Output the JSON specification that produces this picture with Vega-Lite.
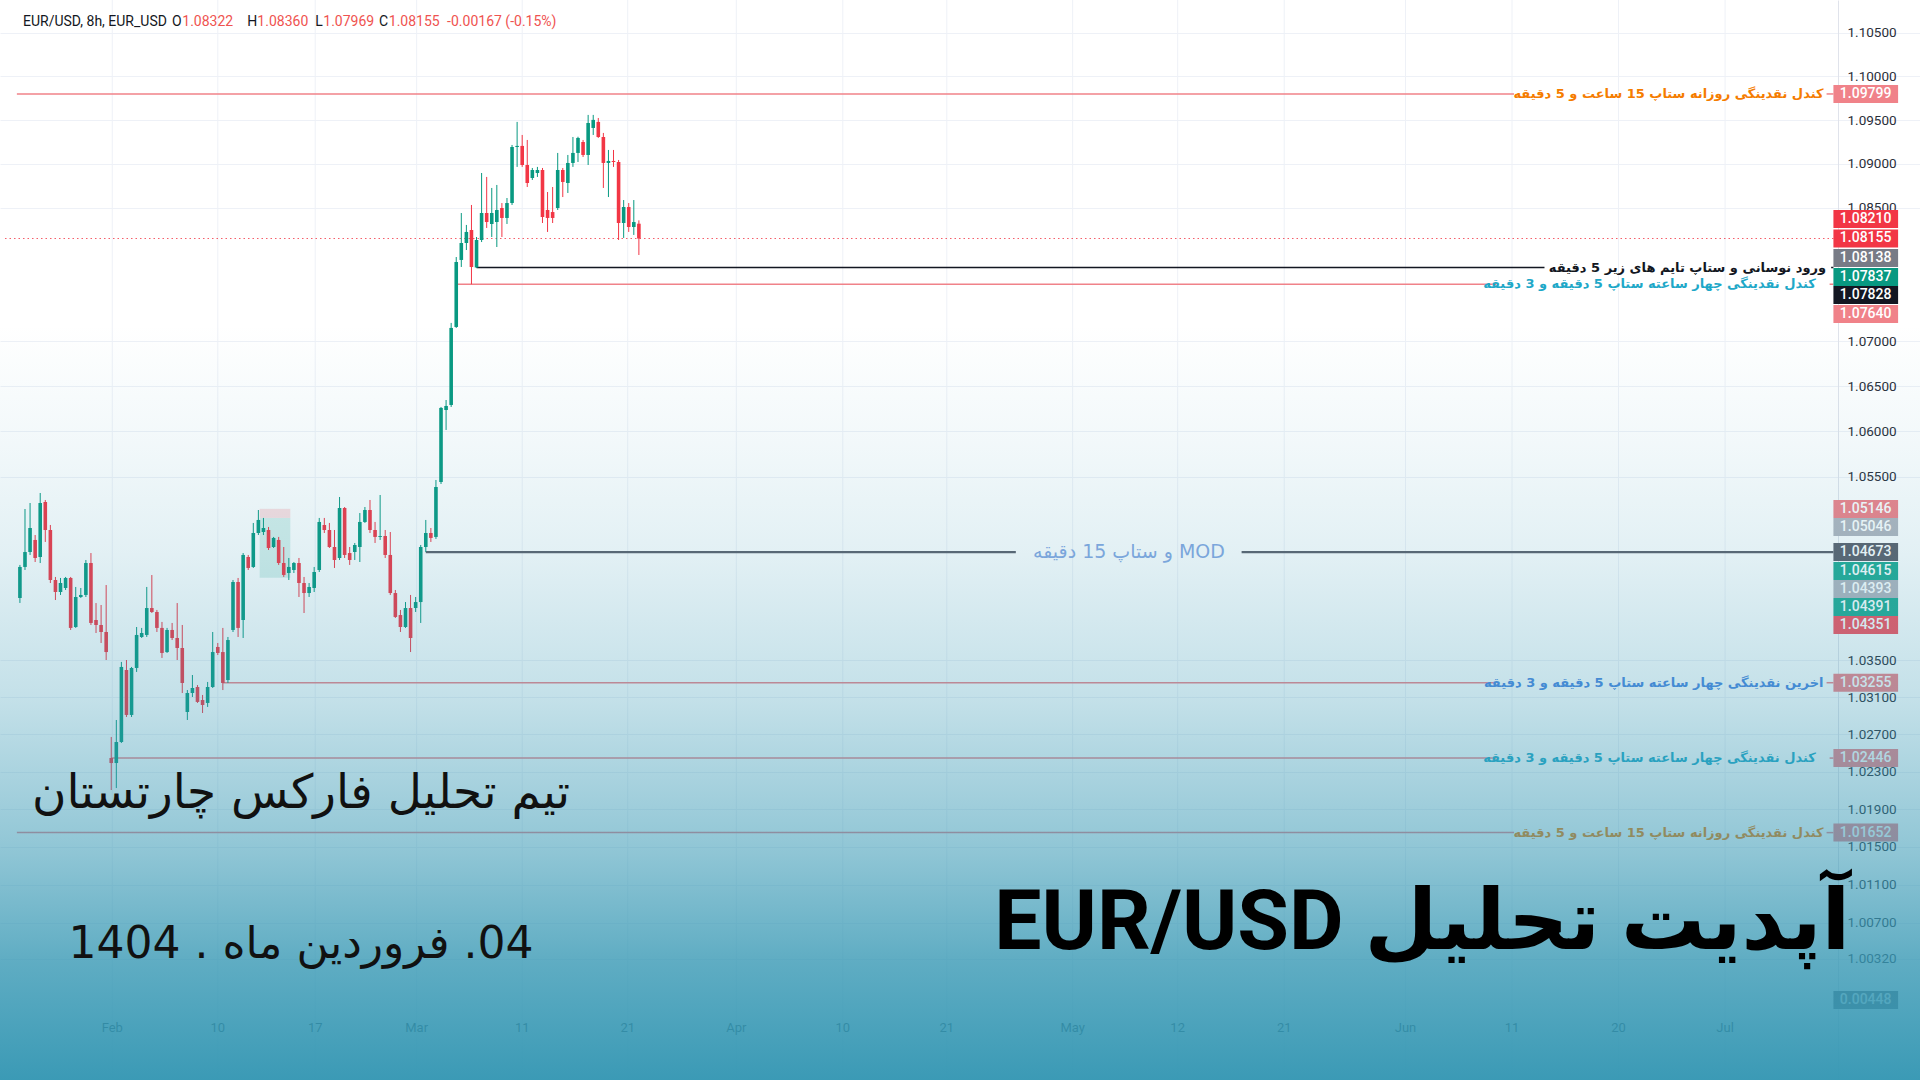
{
  "$schema": "https://vega.github.io/schema/vega-lite/v6.json",
  "width": 1920,
  "height": 1080,
  "autosize": "none",
  "padding": 0,
  "background": "#ffffff",
  "config": {"view": {"stroke": null}, "text": {"font": "Roboto"}},
  "resolve": {"axis": {"y": "independent", "x": "independent"}},
  "data": {"values": [{}]},
  "datasets": {
    "candles": [
      {"i":1,"o":1.04172,"h":1.04532,"l":1.04118,"c":1.04510},
      {"i":2,"o":1.04510,"h":1.05144,"l":1.04477,"c":1.04673},
      {"i":3,"o":1.04673,"h":1.05210,"l":1.04641,"c":1.04936},
      {"i":4,"o":1.04805,"h":1.04859,"l":1.04564,"c":1.04608},
      {"i":5,"o":1.04619,"h":1.05320,"l":1.04553,"c":1.05210},
      {"i":6,"o":1.05221,"h":1.05243,"l":1.04783,"c":1.04914},
      {"i":7,"o":1.04914,"h":1.04969,"l":1.04335,"c":1.04368},
      {"i":8,"o":1.04368,"h":1.04401,"l":1.04150,"c":1.04237},
      {"i":9,"o":1.04237,"h":1.04390,"l":1.04205,"c":1.04335},
      {"i":10,"o":1.04281,"h":1.04401,"l":1.04259,"c":1.04390},
      {"i":11,"o":1.04390,"h":1.04401,"l":1.03825,"c":1.03847},
      {"i":12,"o":1.03857,"h":1.04292,"l":1.03847,"c":1.04183},
      {"i":13,"o":1.04183,"h":1.04281,"l":1.04172,"c":1.04205},
      {"i":14,"o":1.04205,"h":1.04586,"l":1.04183,"c":1.04553},
      {"i":15,"o":1.04553,"h":1.04662,"l":1.03879,"c":1.03901},
      {"i":16,"o":1.03933,"h":1.04117,"l":1.03792,"c":1.03879},
      {"i":17,"o":1.03879,"h":1.04096,"l":1.03684,"c":1.03803},
      {"i":18,"o":1.03803,"h":1.04313,"l":1.03500,"c":1.03586},
      {"i":19,"o":1.02447,"h":1.02672,"l":1.02105,"c":1.02393},
      {"i":20,"o":1.02393,"h":1.02854,"l":1.02126,"c":1.02618},
      {"i":21,"o":1.02618,"h":1.03479,"l":1.02607,"c":1.03425},
      {"i":22,"o":1.03392,"h":1.03500,"l":1.02886,"c":1.02908},
      {"i":23,"o":1.02908,"h":1.03425,"l":1.02886,"c":1.03414},
      {"i":24,"o":1.03414,"h":1.03857,"l":1.03371,"c":1.03771},
      {"i":25,"o":1.03749,"h":1.03847,"l":1.03738,"c":1.03792},
      {"i":26,"o":1.03771,"h":1.04292,"l":1.03749,"c":1.04063},
      {"i":27,"o":1.04063,"h":1.04422,"l":1.04009,"c":1.04020},
      {"i":28,"o":1.04020,"h":1.04042,"l":1.03803,"c":1.03847},
      {"i":29,"o":1.03847,"h":1.03912,"l":1.03522,"c":1.03576},
      {"i":30,"o":1.03586,"h":1.03847,"l":1.03576,"c":1.03825},
      {"i":31,"o":1.03825,"h":1.03901,"l":1.03716,"c":1.03738},
      {"i":32,"o":1.03738,"h":1.04117,"l":1.03500,"c":1.03630},
      {"i":33,"o":1.03630,"h":1.03879,"l":1.03144,"c":1.03252},
      {"i":34,"o":1.02940,"h":1.03176,"l":1.02854,"c":1.03144},
      {"i":35,"o":1.03144,"h":1.03338,"l":1.03101,"c":1.03198},
      {"i":36,"o":1.03209,"h":1.03230,"l":1.03037,"c":1.03048},
      {"i":37,"o":1.03069,"h":1.03123,"l":1.02929,"c":1.03015},
      {"i":38,"o":1.03037,"h":1.03263,"l":1.02994,"c":1.03209},
      {"i":39,"o":1.03209,"h":1.03803,"l":1.03198,"c":1.03586},
      {"i":40,"o":1.03641,"h":1.03684,"l":1.03554,"c":1.03576},
      {"i":41,"o":1.03586,"h":1.03847,"l":1.03176,"c":1.03252},
      {"i":42,"o":1.03284,"h":1.03749,"l":1.03252,"c":1.03716},
      {"i":43,"o":1.03825,"h":1.04368,"l":1.03803,"c":1.04346},
      {"i":44,"o":1.04346,"h":1.04390,"l":1.03749,"c":1.03847},
      {"i":45,"o":1.03933,"h":1.04662,"l":1.03738,"c":1.04641},
      {"i":46,"o":1.04619,"h":1.04641,"l":1.04477,"c":1.04499},
      {"i":47,"o":1.04510,"h":1.04991,"l":1.04499,"c":1.04881},
      {"i":48,"o":1.04881,"h":1.05133,"l":1.04859,"c":1.05024},
      {"i":49,"o":1.04892,"h":1.05046,"l":1.04859,"c":1.04936},
      {"i":50,"o":1.04914,"h":1.04947,"l":1.04695,"c":1.04717},
      {"i":51,"o":1.04728,"h":1.04838,"l":1.04717,"c":1.04827},
      {"i":52,"o":1.04805,"h":1.04838,"l":1.04532,"c":1.04553},
      {"i":53,"o":1.04553,"h":1.04728,"l":1.04401,"c":1.04423},
      {"i":54,"o":1.04444,"h":1.04608,"l":1.04368,"c":1.04510},
      {"i":55,"o":1.04477,"h":1.04564,"l":1.04444,"c":1.04553},
      {"i":56,"o":1.04553,"h":1.04608,"l":1.04183,"c":1.04335},
      {"i":57,"o":1.04335,"h":1.04401,"l":1.04009,"c":1.04226},
      {"i":58,"o":1.04226,"h":1.04335,"l":1.04183,"c":1.04292},
      {"i":59,"o":1.04281,"h":1.04510,"l":1.04237,"c":1.04455},
      {"i":60,"o":1.04477,"h":1.05046,"l":1.04455,"c":1.05002},
      {"i":61,"o":1.04969,"h":1.05046,"l":1.04881,"c":1.04914},
      {"i":62,"o":1.04914,"h":1.04991,"l":1.04717,"c":1.04728},
      {"i":63,"o":1.04728,"h":1.04914,"l":1.04499,"c":1.04586},
      {"i":64,"o":1.04608,"h":1.05276,"l":1.04586,"c":1.05155},
      {"i":65,"o":1.05155,"h":1.05166,"l":1.04608,"c":1.04641},
      {"i":66,"o":1.04662,"h":1.04728,"l":1.04532,"c":1.04586},
      {"i":67,"o":1.04673,"h":1.04772,"l":1.04586,"c":1.04750},
      {"i":68,"o":1.04728,"h":1.05100,"l":1.04564,"c":1.05002},
      {"i":69,"o":1.05002,"h":1.05166,"l":1.04991,"c":1.05133},
      {"i":70,"o":1.05133,"h":1.05243,"l":1.04881,"c":1.04914},
      {"i":71,"o":1.04914,"h":1.05002,"l":1.04772,"c":1.04838},
      {"i":72,"o":1.04838,"h":1.05298,"l":1.04805,"c":1.04848},
      {"i":73,"o":1.04848,"h":1.04914,"l":1.04608,"c":1.04641},
      {"i":74,"o":1.04641,"h":1.04892,"l":1.04205,"c":1.04226},
      {"i":75,"o":1.04226,"h":1.04259,"l":1.03955,"c":1.03966},
      {"i":76,"o":1.03987,"h":1.04042,"l":1.03803,"c":1.03857},
      {"i":77,"o":1.03857,"h":1.04128,"l":1.03847,"c":1.04063},
      {"i":78,"o":1.04063,"h":1.04205,"l":1.03586,"c":1.03738},
      {"i":79,"o":1.04063,"h":1.04183,"l":1.04020,"c":1.04128},
      {"i":80,"o":1.04128,"h":1.04750,"l":1.03901,"c":1.04728},
      {"i":81,"o":1.04728,"h":1.05024,"l":1.04673,"c":1.04881},
      {"i":82,"o":1.04881,"h":1.04936,"l":1.04783,"c":1.04827},
      {"i":83,"o":1.04838,"h":1.05463,"l":1.04816,"c":1.05386},
      {"i":84,"o":1.05441,"h":1.06270,"l":1.05419,"c":1.06259},
      {"i":85,"o":1.06236,"h":1.06347,"l":1.06015,"c":1.06281},
      {"i":86,"o":1.06292,"h":1.07206,"l":1.06270,"c":1.07150},
      {"i":87,"o":1.07161,"h":1.07946,"l":1.07150,"c":1.07890},
      {"i":88,"o":1.07913,"h":1.08443,"l":1.07834,"c":1.08104},
      {"i":89,"o":1.08104,"h":1.08308,"l":1.08025,"c":1.08229},
      {"i":90,"o":1.08251,"h":1.08534,"l":1.07640,"c":1.07834},
      {"i":91,"o":1.07828,"h":1.08172,"l":1.07823,"c":1.08138},
      {"i":92,"o":1.08138,"h":1.08897,"l":1.08115,"c":1.08443},
      {"i":93,"o":1.08443,"h":1.08852,"l":1.08274,"c":1.08341},
      {"i":94,"o":1.08319,"h":1.08727,"l":1.08172,"c":1.08443},
      {"i":95,"o":1.08341,"h":1.08761,"l":1.08059,"c":1.08477},
      {"i":96,"o":1.08500,"h":1.08556,"l":1.08172,"c":1.08387},
      {"i":97,"o":1.08387,"h":1.08613,"l":1.08319,"c":1.08556},
      {"i":98,"o":1.08556,"h":1.09216,"l":1.08534,"c":1.09193},
      {"i":99,"o":1.09193,"h":1.09479,"l":1.08966,"c":1.09205},
      {"i":100,"o":1.09205,"h":1.09330,"l":1.08966,"c":1.08988},
      {"i":101,"o":1.08988,"h":1.09273,"l":1.08738,"c":1.08783},
      {"i":102,"o":1.08840,"h":1.08954,"l":1.08818,"c":1.08931},
      {"i":103,"o":1.08897,"h":1.08966,"l":1.08852,"c":1.08931},
      {"i":104,"o":1.08931,"h":1.08954,"l":1.08330,"c":1.08398},
      {"i":105,"o":1.08477,"h":1.08681,"l":1.08229,"c":1.08387},
      {"i":106,"o":1.08454,"h":1.08738,"l":1.08330,"c":1.08387},
      {"i":107,"o":1.08500,"h":1.09125,"l":1.08477,"c":1.08931},
      {"i":108,"o":1.08931,"h":1.08954,"l":1.08624,"c":1.08795},
      {"i":109,"o":1.08783,"h":1.09102,"l":1.08670,"c":1.09011},
      {"i":110,"o":1.09011,"h":1.09307,"l":1.08966,"c":1.09125},
      {"i":111,"o":1.09125,"h":1.09310,"l":1.09022,"c":1.09296},
      {"i":112,"o":1.09250,"h":1.09273,"l":1.09079,"c":1.09102},
      {"i":113,"o":1.09102,"h":1.09559,"l":1.08988,"c":1.09467},
      {"i":114,"o":1.09410,"h":1.09559,"l":1.09330,"c":1.09502},
      {"i":115,"o":1.09479,"h":1.09524,"l":1.09296,"c":1.09307},
      {"i":116,"o":1.09307,"h":1.09353,"l":1.08727,"c":1.09011},
      {"i":117,"o":1.09011,"h":1.09159,"l":1.08624,"c":1.09034},
      {"i":118,"o":1.09034,"h":1.09159,"l":1.08966,"c":1.09022},
      {"i":119,"o":1.09022,"h":1.09045,"l":1.08138,"c":1.08330},
      {"i":120,"o":1.08330,"h":1.08590,"l":1.08161,"c":1.08511},
      {"i":121,"o":1.08511,"h":1.08556,"l":1.08229,"c":1.08285},
      {"i":122,"o":1.08285,"h":1.08590,"l":1.08195,"c":1.08341},
      {"i":123,"o":1.08322,"h":1.08360,"l":1.07969,"c":1.08155}
    ],
    "dates": [
      {"i":19.2,"t":"Feb"},{"i":40,"t":"10"},{"i":59.2,"t":"17"},{"i":79.2,"t":"Mar"},
      {"i":100,"t":"11"},{"i":120.8,"t":"21"},{"i":142.2,"t":"Apr"},{"i":163.2,"t":"10"},
      {"i":183.7,"t":"21"},{"i":208.5,"t":"May"},{"i":229.2,"t":"12"},{"i":250.2,"t":"21"},
      {"i":274.1,"t":"Jun"},{"i":295.1,"t":"11"},{"i":316.1,"t":"20"},{"i":337.1,"t":"Jul"}
    ],
    "box": [
      {"x0":48.25,"x1":54.3,"y0":1.05146,"y1":1.05046,"k":"stop"},
      {"x0":48.25,"x1":54.3,"y0":1.05046,"y1":1.04393,"k":"target"}
    ],
    "levels": [
      {"p":1.09799,"a":0.4,"b":295.5,"k":"lvl"},
      {"p":1.09799,"a":357.1,"b":358.45,"k":"lvl"},
      {"p":1.07828,"a":91,"b":301.5,"k":"black"},
      {"p":1.07828,"a":358.0,"b":358.45,"k":"black"},
      {"p":1.0764,"a":87.3,"b":292.0,"k":"lvl"},
      {"p":1.0764,"a":357.7,"b":358.45,"k":"lvl"},
      {"p":1.04673,"a":81,"b":197.3,"k":"mod"},
      {"p":1.04673,"a":241.8,"b":358.45,"k":"mod"},
      {"p":1.03255,"a":41,"b":292.0,"k":"lvl"},
      {"p":1.03255,"a":357.1,"b":358.45,"k":"lvl"},
      {"p":1.02446,"a":19,"b":292.0,"k":"lvl"},
      {"p":1.02446,"a":357.7,"b":358.45,"k":"lvl"},
      {"p":1.01652,"a":0.4,"b":295.5,"k":"lvl"},
      {"p":1.01652,"a":357.1,"b":358.45,"k":"lvl"}
    ],
    "notes": [
      {"p":1.09799,"at":356.5,"t":"کندل نقدینگی روزانه ستاپ 15 ساعت و 5 دقیقه","k":"orange"},
      {"p":1.07828,"at":357.0,"t":"ورود نوسانی  و ستاپ تایم های زیر 5 دقیقه","k":"black"},
      {"p":1.0764,"at":355.0,"t":"کندل نقدینگی چهار ساعته ستاپ 5 دقیقه و 3 دقیقه","k":"cyan"},
      {"p":1.03255,"at":356.5,"t":"اخرین نقدینگی چهار ساعته ستاپ 5 دقیقه و 3 دقیقه","k":"blue"},
      {"p":1.02446,"at":355.0,"t":"کندل نقدینگی چهار ساعته ستاپ 5 دقیقه و 3 دقیقه","k":"cyan"},
      {"p":1.01652,"at":356.5,"t":"کندل نقدینگی روزانه ستاپ 15 ساعت و 5 دقیقه","k":"orange"}
    ],
    "tags": [
      {"v":1.09799,"at":1.09799,"k":"lvl"},
      {"v":1.08210,"at":1.08375,"k":"red"},
      {"v":1.08155,"at":1.08155,"k":"red"},
      {"v":1.08138,"at":1.07936,"k":"gray"},
      {"v":1.07837,"at":1.07722,"k":"teal"},
      {"v":1.07828,"at":1.07519,"k":"black"},
      {"v":1.07640,"at":1.07306,"k":"lvl"},
      {"v":1.05146,"at":1.05144,"k":"lvl"},
      {"v":1.05046,"at":1.04947,"k":"lgray"},
      {"v":1.04673,"at":1.04673,"k":"mod"},
      {"v":1.04615,"at":1.04466,"k":"teal2"},
      {"v":1.04393,"at":1.04270,"k":"lgray"},
      {"v":1.04391,"at":1.04074,"k":"teal2"},
      {"v":1.04351,"at":1.03879,"k":"red2"},
      {"v":1.03255,"at":1.03255,"k":"lvl"},
      {"v":1.02446,"at":1.02446,"k":"lvl"},
      {"v":1.01652,"at":1.01652,"k":"lvl"},
      {"v":0.00448,"at":0.99892,"k":"mod"}
    ]
  },
  "layer": [
    {
      "data": {"name": "dates"},
      "mark": {"type": "rule", "color": "#eef1f7", "strokeWidth": 1},
      "encoding": {
        "x": {"field": "i", "type": "quantitative", "scale": {"domain": [-1.941, 374.53], "nice": false, "zero": false}, "axis": null}
      }
    },
    {
      "data": {"name": "box"},
      "mark": {"type": "rect"},
      "encoding": {
        "x": {"field": "x0", "type": "quantitative", "scale": {"domain": [-1.941, 374.53], "nice": false, "zero": false}, "axis": null},
        "x2": {"field": "x1"},
        "y": {"field": "y0", "type": "quantitative", "scale": {"type": "log", "domain": [0.99061, 1.10881], "nice": false},
          "axis": {"orient": "right", "offset": -82, "title": null,
            "values": [1.105, 1.1, 1.095, 1.09, 1.085, 1.07, 1.065, 1.06, 1.055, 1.035, 1.031, 1.027, 1.023, 1.019, 1.015, 1.011, 1.007, 1.0032],
            "format": ".5f", "labelAlign": "left", "labelBaseline": "middle", "labelPadding": 9, "ticks": false,
            "domainColor": "#e0e3eb", "domainWidth": 1, "grid": true, "gridColor": "#eef1f7", "gridWidth": 1,
            "labelFont": "Roboto", "labelFontSize": 13.5, "labelColor": "#2a2e39", "labelOverlap": false, "labelFlush": false, "labelBound": false}},
        "y2": {"field": "y1"},
        "color": {"field": "k", "type": "nominal", "legend": null,
          "scale": {"domain": ["lvl","red","gray","teal","black","mod","lgray","teal2","red2","orange","cyan","blue","stop","target"],
            "range": ["#f08289","#f23645","#787b86","#089981","#131722","#5d606b","#b2b5be","#22ab94","#f7525f","#f57c00","#1fa8c8","#4a86e0","rgba(242,54,69,0.16)","rgba(8,153,129,0.16)"]}}
      }
    },
    {
      "data": {"name": "levels"},
      "mark": {"type": "rule"},
      "encoding": {
        "x": {"field": "a", "type": "quantitative", "scale": {"domain": [-1.941, 374.53], "nice": false, "zero": false}, "axis": null},
        "x2": {"field": "b"},
        "y": {"field": "p", "type": "quantitative", "scale": {"type": "log", "domain": [0.99061, 1.10881], "nice": false}, "axis": null},
        "color": {"field": "k", "type": "nominal", "legend": null},
        "strokeWidth": {"condition": {"test": "datum.k === 'mod'", "value": 2.2}, "value": 1.5}
      }
    },
    {
      "mark": {"type": "rule", "color": "#f23645", "strokeDash": [1.5, 3], "strokeWidth": 1.2, "opacity": 0.8},
      "encoding": {
        "x": {"datum": -1.941, "type": "quantitative", "scale": {"domain": [-1.941, 374.53], "nice": false, "zero": false}, "axis": null},
        "x2": {"datum": 358.45},
        "y": {"datum": 1.08155, "type": "quantitative", "scale": {"type": "log", "domain": [0.99061, 1.10881], "nice": false}, "axis": null}
      }
    },
    {
      "data": {"name": "candles"},
      "mark": {"type": "rule", "strokeWidth": 1},
      "encoding": {
        "x": {"field": "i", "type": "quantitative", "scale": {"domain": [-1.941, 374.53], "nice": false, "zero": false}, "axis": null},
        "y": {"field": "l", "type": "quantitative", "scale": {"type": "log", "domain": [0.99061, 1.10881], "nice": false}, "axis": null},
        "y2": {"field": "h"},
        "color": {"condition": {"test": "datum.c >= datum.o", "value": "#089981"}, "value": "#f23645"}
      }
    },
    {
      "data": {"name": "candles"},
      "mark": {"type": "bar", "size": 3.6},
      "encoding": {
        "x": {"field": "i", "type": "quantitative", "scale": {"domain": [-1.941, 374.53], "nice": false, "zero": false}, "axis": null},
        "y": {"field": "o", "type": "quantitative", "scale": {"type": "log", "domain": [0.99061, 1.10881], "nice": false}, "axis": null},
        "y2": {"field": "c"},
        "color": {"condition": {"test": "datum.c >= datum.o", "value": "#089981"}, "value": "#f23645"}
      }
    },
    {
      "data": {"name": "notes"},
      "mark": {"type": "text", "align": "right", "baseline": "middle", "font": "DejaVu Sans", "fontWeight": "bold", "fontSize": 13},
      "encoding": {
        "x": {"field": "at", "type": "quantitative", "scale": {"domain": [-1.941, 374.53], "nice": false, "zero": false}, "axis": null},
        "y": {"field": "p", "type": "quantitative", "scale": {"type": "log", "domain": [0.99061, 1.10881], "nice": false}, "axis": null},
        "text": {"field": "t"},
        "color": {"field": "k", "type": "nominal", "legend": null}
      }
    },
    {
      "mark": {"type": "text", "align": "center", "baseline": "middle", "font": "DejaVu Sans", "fontSize": 19, "color": "#86a8e2", "text": "\u202bMOD و ستاپ 15 دقیقه\u202c"},
      "encoding": {
        "x": {"datum": 219.6, "type": "quantitative", "scale": {"domain": [-1.941, 374.53], "nice": false, "zero": false}, "axis": null},
        "y": {"datum": 1.04673, "type": "quantitative", "scale": {"type": "log", "domain": [0.99061, 1.10881], "nice": false}, "axis": null}
      }
    },
    {
      "data": {"name": "tags"},
      "mark": {"type": "rule", "strokeWidth": 18, "strokeCap": "butt"},
      "encoding": {
        "x": {"datum": 358.45, "type": "quantitative", "scale": {"domain": [-1.941, 374.53], "nice": false, "zero": false}, "axis": null},
        "x2": {"datum": 371.2},
        "y": {"field": "at", "type": "quantitative", "scale": {"type": "log", "domain": [0.99061, 1.10881], "nice": false}, "axis": null},
        "color": {"field": "k", "type": "nominal", "legend": null}
      }
    },
    {
      "data": {"name": "tags"},
      "mark": {"type": "text", "align": "center", "baseline": "middle", "font": "Roboto", "fontSize": 14, "fontWeight": 500, "color": "#ffffff"},
      "encoding": {
        "x": {"datum": 364.8, "type": "quantitative", "scale": {"domain": [-1.941, 374.53], "nice": false, "zero": false}, "axis": null},
        "y": {"field": "at", "type": "quantitative", "scale": {"type": "log", "domain": [0.99061, 1.10881], "nice": false}, "axis": null},
        "text": {"field": "v", "type": "quantitative", "format": ".5f"}
      }
    },
    {
      "mark": {"type": "text", "align": "left", "baseline": "middle", "font": "Roboto", "fontSize": 14, "color": "#131722", "text": "EUR/USD, 8h, EUR_USD"},
      "encoding": {
        "x": {"datum": 1.6, "type": "quantitative", "scale": {"domain": [-1.941, 374.53], "nice": false, "zero": false}, "axis": null},
        "y": {"datum": 1.10627, "type": "quantitative", "scale": {"type": "log", "domain": [0.99061, 1.10881], "nice": false}, "axis": null}
      }
    },
    {
      "mark": {"type": "text", "align": "left", "baseline": "middle", "font": "Roboto", "fontSize": 14, "color": "#131722", "text": "O"},
      "encoding": {
        "x": {"datum": 31.0, "type": "quantitative", "scale": {"domain": [-1.941, 374.53], "nice": false, "zero": false}, "axis": null},
        "y": {"datum": 1.10627, "type": "quantitative", "scale": {"type": "log", "domain": [0.99061, 1.10881], "nice": false}, "axis": null}
      }
    },
    {
      "mark": {"type": "text", "align": "left", "baseline": "middle", "font": "Roboto", "fontSize": 14, "color": "#ef5350", "text": "1.08322"},
      "encoding": {
        "x": {"datum": 33.0, "type": "quantitative", "scale": {"domain": [-1.941, 374.53], "nice": false, "zero": false}, "axis": null},
        "y": {"datum": 1.10627, "type": "quantitative", "scale": {"type": "log", "domain": [0.99061, 1.10881], "nice": false}, "axis": null}
      }
    },
    {
      "mark": {"type": "text", "align": "left", "baseline": "middle", "font": "Roboto", "fontSize": 14, "color": "#131722", "text": "H"},
      "encoding": {
        "x": {"datum": 45.8, "type": "quantitative", "scale": {"domain": [-1.941, 374.53], "nice": false, "zero": false}, "axis": null},
        "y": {"datum": 1.10627, "type": "quantitative", "scale": {"type": "log", "domain": [0.99061, 1.10881], "nice": false}, "axis": null}
      }
    },
    {
      "mark": {"type": "text", "align": "left", "baseline": "middle", "font": "Roboto", "fontSize": 14, "color": "#ef5350", "text": "1.08360"},
      "encoding": {
        "x": {"datum": 47.8, "type": "quantitative", "scale": {"domain": [-1.941, 374.53], "nice": false, "zero": false}, "axis": null},
        "y": {"datum": 1.10627, "type": "quantitative", "scale": {"type": "log", "domain": [0.99061, 1.10881], "nice": false}, "axis": null}
      }
    },
    {
      "mark": {"type": "text", "align": "left", "baseline": "middle", "font": "Roboto", "fontSize": 14, "color": "#131722", "text": "L"},
      "encoding": {
        "x": {"datum": 59.2, "type": "quantitative", "scale": {"domain": [-1.941, 374.53], "nice": false, "zero": false}, "axis": null},
        "y": {"datum": 1.10627, "type": "quantitative", "scale": {"type": "log", "domain": [0.99061, 1.10881], "nice": false}, "axis": null}
      }
    },
    {
      "mark": {"type": "text", "align": "left", "baseline": "middle", "font": "Roboto", "fontSize": 14, "color": "#ef5350", "text": "1.07969"},
      "encoding": {
        "x": {"datum": 60.8, "type": "quantitative", "scale": {"domain": [-1.941, 374.53], "nice": false, "zero": false}, "axis": null},
        "y": {"datum": 1.10627, "type": "quantitative", "scale": {"type": "log", "domain": [0.99061, 1.10881], "nice": false}, "axis": null}
      }
    },
    {
      "mark": {"type": "text", "align": "left", "baseline": "middle", "font": "Roboto", "fontSize": 14, "color": "#131722", "text": "C"},
      "encoding": {
        "x": {"datum": 71.8, "type": "quantitative", "scale": {"domain": [-1.941, 374.53], "nice": false, "zero": false}, "axis": null},
        "y": {"datum": 1.10627, "type": "quantitative", "scale": {"type": "log", "domain": [0.99061, 1.10881], "nice": false}, "axis": null}
      }
    },
    {
      "mark": {"type": "text", "align": "left", "baseline": "middle", "font": "Roboto", "fontSize": 14, "color": "#ef5350", "text": "1.08155"},
      "encoding": {
        "x": {"datum": 73.7, "type": "quantitative", "scale": {"domain": [-1.941, 374.53], "nice": false, "zero": false}, "axis": null},
        "y": {"datum": 1.10627, "type": "quantitative", "scale": {"type": "log", "domain": [0.99061, 1.10881], "nice": false}, "axis": null}
      }
    },
    {
      "mark": {"type": "text", "align": "left", "baseline": "middle", "font": "Roboto", "fontSize": 14, "color": "#ef5350", "text": "-0.00167 (-0.15%)"},
      "encoding": {
        "x": {"datum": 85.2, "type": "quantitative", "scale": {"domain": [-1.941, 374.53], "nice": false, "zero": false}, "axis": null},
        "y": {"datum": 1.10627, "type": "quantitative", "scale": {"type": "log", "domain": [0.99061, 1.10881], "nice": false}, "axis": null}
      }
    },
    {
      "data": {"name": "dates"},
      "mark": {"type": "text", "align": "center", "baseline": "middle", "font": "Roboto", "fontSize": 13, "color": "#131722"},
      "encoding": {
        "x": {"field": "i", "type": "quantitative", "scale": {"domain": [-1.941, 374.53], "nice": false, "zero": false}, "axis": null},
        "y": {"datum": 0.996, "type": "quantitative", "scale": {"type": "log", "domain": [0.99061, 1.10881], "nice": false}, "axis": null},
        "text": {"field": "t"}
      }
    },
    {
      "mark": {"type": "rect", "fill": {"gradient": "linear", "x1": 0, "y1": 0, "x2": 0, "y2": 1,
        "stops": [
          {"offset": 0, "color": "rgba(55,152,180,0)"},
          {"offset": 0.3, "color": "rgba(55,152,180,0)"},
          {"offset": 0.4, "color": "rgba(55,152,180,0.06)"},
          {"offset": 0.51, "color": "rgba(55,152,180,0.14)"},
          {"offset": 0.65, "color": "rgba(55,152,180,0.3)"},
          {"offset": 0.79, "color": "rgba(55,152,180,0.56)"},
          {"offset": 0.89, "color": "rgba(55,152,180,0.8)"},
          {"offset": 1, "color": "rgba(55,152,180,0.98)"}
        ]}},
      "encoding": {
        "x": {"datum": -4, "type": "quantitative", "scale": {"domain": [-1.941, 374.53], "nice": false, "zero": false}, "axis": null},
        "x2": {"datum": 377},
        "y": {"datum": 0.99061, "type": "quantitative", "scale": {"type": "log", "domain": [0.99061, 1.10881], "nice": false}, "axis": null},
        "y2": {"datum": 1.10881}
      }
    },
    {
      "mark": {"type": "text", "align": "right", "baseline": "alphabetic", "font": "Roboto, DejaVu Sans", "fontWeight": "bold", "fontSize": 84, "color": "#000000", "text": "\u202bآپدیت تحلیل EUR/USD\u202c"},
      "encoding": {
        "x": {"datum": 361.78, "type": "quantitative", "scale": {"domain": [-1.941, 374.53], "nice": false, "zero": false}, "axis": null},
        "y": {"datum": 1.00425, "type": "quantitative", "scale": {"type": "log", "domain": [0.99061, 1.10881], "nice": false}, "axis": null}
      }
    },
    {
      "mark": {"type": "text", "align": "center", "baseline": "alphabetic", "font": "DejaVu Sans", "fontSize": 47, "color": "#111111", "text": "تیم تحلیل فارکس چارتستان"},
      "encoding": {
        "x": {"datum": 56.4, "type": "quantitative", "scale": {"domain": [-1.941, 374.53], "nice": false, "zero": false}, "axis": null},
        "y": {"datum": 1.01909, "type": "quantitative", "scale": {"type": "log", "domain": [0.99061, 1.10881], "nice": false}, "axis": null}
      }
    },
    {
      "mark": {"type": "text", "align": "center", "baseline": "alphabetic", "font": "DejaVu Sans", "fontSize": 44, "color": "#111111", "text": "\u202b04. فروردین ماه . 1404\u202c"},
      "encoding": {
        "x": {"datum": 56.4, "type": "quantitative", "scale": {"domain": [-1.941, 374.53], "nice": false, "zero": false}, "axis": null},
        "y": {"datum": 1.00331, "type": "quantitative", "scale": {"type": "log", "domain": [0.99061, 1.10881], "nice": false}, "axis": null}
      }
    }
  ]
}
